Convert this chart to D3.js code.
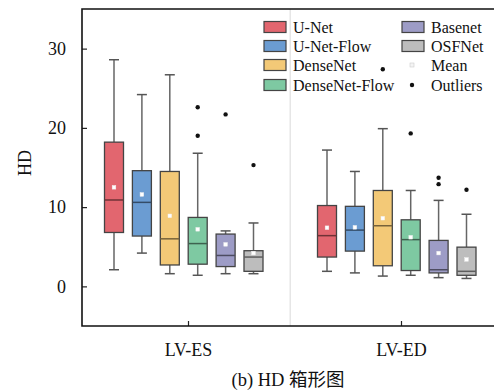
<!DOCTYPE html>
<html>
<head>
<meta charset="utf-8">
<script src="https://cdn.jsdelivr.net/npm/d3@7"></script>
<style>
html,body{margin:0;padding:0;background:#fff;}
svg{display:block;}
text{font-family:"Liberation Serif","Times New Roman","Noto Sans CJK SC",serif;fill:#111;}
</style>
</head>
<body>
<svg id="chart" width="494" height="390"></svg>
<script>
const groups = ["LV-ES", "LV-ED"];
const models = ["U-Net", "U-Net-Flow", "DenseNet", "DenseNet-Flow", "Basenet", "OSFNet"];
const colors = ["#e2666f", "#6b9cd2", "#f3c977", "#7ec9a2", "#9d9cc6", "#bdbdbd"];
// per model: [LV-ES, LV-ED]
const whiskerLow  = [[2.1, 1.9], [4.2, 1.7], [1.6, 1.3], [1.4, 1.4], [1.6, 1.1], [1.6, 1.0]];
const q1          = [[6.8, 3.7], [6.35, 4.45], [2.7, 2.6], [2.8, 2.0], [2.5, 1.7], [1.9, 1.4]];
const median      = [[10.9, 6.4], [10.6, 7.1], [6.0, 7.65], [5.4, 5.9], [3.9, 2.1], [3.7, 1.9]];
const q3          = [[18.2, 10.2], [14.6, 10.1], [14.5, 12.1], [8.7, 8.4], [6.6, 5.8], [4.5, 4.95]];
const whiskerHigh = [[28.6, 17.2], [24.2, 14.5], [26.7, 19.9], [16.8, 12.1], [7.0, 10.85], [8.0, 9.1]];
const means       = [[12.5, 7.4], [11.6, 7.45], [8.9, 8.6], [7.2, 6.2], [5.3, 4.2], [4.2, 3.4]];
// outliers: [group, model, value]
const outliers = [
  ["LV-ES", "DenseNet-Flow", 22.6], ["LV-ES", "DenseNet-Flow", 19.0],
  ["LV-ES", "Basenet", 21.7], ["LV-ES", "OSFNet", 15.3],
  ["LV-ED", "DenseNet", 27.4], ["LV-ED", "DenseNet-Flow", 19.3],
  ["LV-ED", "Basenet", 13.7], ["LV-ED", "Basenet", 12.9],
  ["LV-ED", "OSFNet", 12.2]
];
const yTicks = [0, 10, 20, 30];
const yLabel = "HD";
const caption = "(b) HD 箱形图";
const legendExtra = ["Mean", "Outliers"];

const svg = d3.select("#chart");
const L = 82, T = 9, B = 326, R = 508;

const y = d3.scaleLinear().domain([-5, 35]).range([B, T]);
const x = d3.scaleBand().domain(groups).range([L, R]);
const inner = d3.scalePoint().domain(models).range([-74.5, 65]);
const bw = 19, cap = 10;
const cx = (g, m) => x(g) + x.bandwidth() / 2 + inner(m);

// separator
const sepX = (cx(groups[0], models[models.length - 1]) + cx(groups[1], models[0])) / 2;
svg.append("line").attr("x1", sepX).attr("x2", sepX).attr("y1", T).attr("y2", B)
  .attr("stroke", "#e6e6e6").attr("stroke-width", 1.5);

// axes
const yAxis = d3.axisLeft(y).tickValues(yTicks).tickSize(-5).tickPadding(16).tickFormat(d3.format("d"));
const gy = svg.append("g").attr("transform", `translate(${L},0)`).call(yAxis);
gy.select(".domain").remove();
gy.selectAll("line").attr("stroke", "#222").attr("stroke-width", 1.2);
gy.selectAll("text").attr("font-size", 18).attr("fill", "#111")
  .attr("font-family", '"Liberation Serif","Times New Roman",serif');

const xAxis = d3.axisBottom(x).tickSize(-5).tickPadding(17);
const gx = svg.append("g").attr("transform", `translate(0,${B})`).call(xAxis);
gx.select(".domain").remove();
gx.selectAll("line").attr("stroke", "#222").attr("stroke-width", 1.2);
gx.selectAll("text").attr("font-size", 18).attr("fill", "#111")
  .attr("font-family", '"Liberation Serif","Times New Roman",serif');

// frame
svg.append("path").attr("d", `M${R},${T}H${L}V${B}H${R}`)
  .attr("fill", "none").attr("stroke", "#111").attr("stroke-width", 1.6);

// boxes
const boxData = [];
models.forEach((m, i) => groups.forEach((g, j) => boxData.push({
  g, m, c: colors[i], lo: whiskerLow[i][j], q1: q1[i][j], med: median[i][j],
  q3: q3[i][j], hi: whiskerHigh[i][j], mean: means[i][j]
})));

const bg = svg.append("g").selectAll("g").data(boxData).join("g")
  .attr("transform", d => `translate(${cx(d.g, d.m)},0)`);
bg.append("line").attr("y1", d => y(d.hi)).attr("y2", d => y(d.q3))
  .attr("stroke", "#666").attr("stroke-width", 1.5);
bg.append("line").attr("y1", d => y(d.lo)).attr("y2", d => y(d.q1))
  .attr("stroke", "#666").attr("stroke-width", 1.5);
bg.append("line").attr("x1", -cap / 2).attr("x2", cap / 2).attr("y1", d => y(d.hi)).attr("y2", d => y(d.hi))
  .attr("stroke", "#555").attr("stroke-width", 1.5);
bg.append("line").attr("x1", -cap / 2).attr("x2", cap / 2).attr("y1", d => y(d.lo)).attr("y2", d => y(d.lo))
  .attr("stroke", "#555").attr("stroke-width", 1.5);
bg.append("rect").attr("x", -bw / 2).attr("width", bw)
  .attr("y", d => y(d.q3)).attr("height", d => y(d.q1) - y(d.q3))
  .attr("fill", d => d.c).attr("stroke", "#444").attr("stroke-width", 1.3);
bg.append("line").attr("x1", -bw / 2).attr("x2", bw / 2).attr("y1", d => y(d.med)).attr("y2", d => y(d.med))
  .attr("stroke", d => d3.color(d.c).darker(2)).attr("stroke-width", 1.5);
bg.append("rect").attr("x", -1.8).attr("width", 3.6)
  .attr("y", d => y(d.mean) - 1.8).attr("height", 3.6)
  .attr("fill", "#fff").attr("stroke", "#f0f0f0").attr("stroke-width", 0.5);

// outliers
svg.append("g").selectAll("circle").data(outliers).join("circle")
  .attr("cx", d => cx(d[0], d[1])).attr("cy", d => y(d[2])).attr("r", 2.2).attr("fill", "#111");

// y label
svg.append("text").attr("transform", "translate(31,163) rotate(-90)")
  .attr("text-anchor", "middle").attr("font-size", 18).text(yLabel);

// caption
svg.append("text").attr("x", 288).attr("y", 386).attr("text-anchor", "middle")
  .attr("font-size", 18.5).text(caption);

// legend
const lg = svg.append("g");
const rowY = [27, 46, 65, 85];
const col1 = models.slice(0, 4).map((m, i) => ({ m, c: colors[i], col: 0, row: i }));
const col2 = models.slice(4).map((m, i) => ({ m, c: colors[i + 4], col: 1, row: i }));
const colX = [264, 402];
const swW = 22, swH = 11;
[...col1, ...col2].forEach(d => {
  lg.append("rect").attr("x", colX[d.col]).attr("y", rowY[d.row] - swH / 2)
    .attr("width", swW).attr("height", swH).attr("fill", d.c)
    .attr("stroke", "#444").attr("stroke-width", 1.2);
  lg.append("text").attr("x", colX[d.col] + 29).attr("y", rowY[d.row]).attr("dy", "0.35em")
    .attr("font-size", 16).text(d.m);
});
lg.append("rect").attr("x", 410).attr("y", rowY[2] - 2).attr("width", 4).attr("height", 4)
  .attr("fill", "#f4f4f4").attr("stroke", "#ccc").attr("stroke-width", 0.6);
lg.append("text").attr("x", 431).attr("y", rowY[2]).attr("dy", "0.35em").attr("font-size", 16).text(legendExtra[0]);
lg.append("circle").attr("cx", 412).attr("cy", rowY[3]).attr("r", 2.2).attr("fill", "#111");
lg.append("text").attr("x", 431).attr("y", rowY[3]).attr("dy", "0.35em").attr("font-size", 16).text(legendExtra[1]);
</script>
</body>
</html>
